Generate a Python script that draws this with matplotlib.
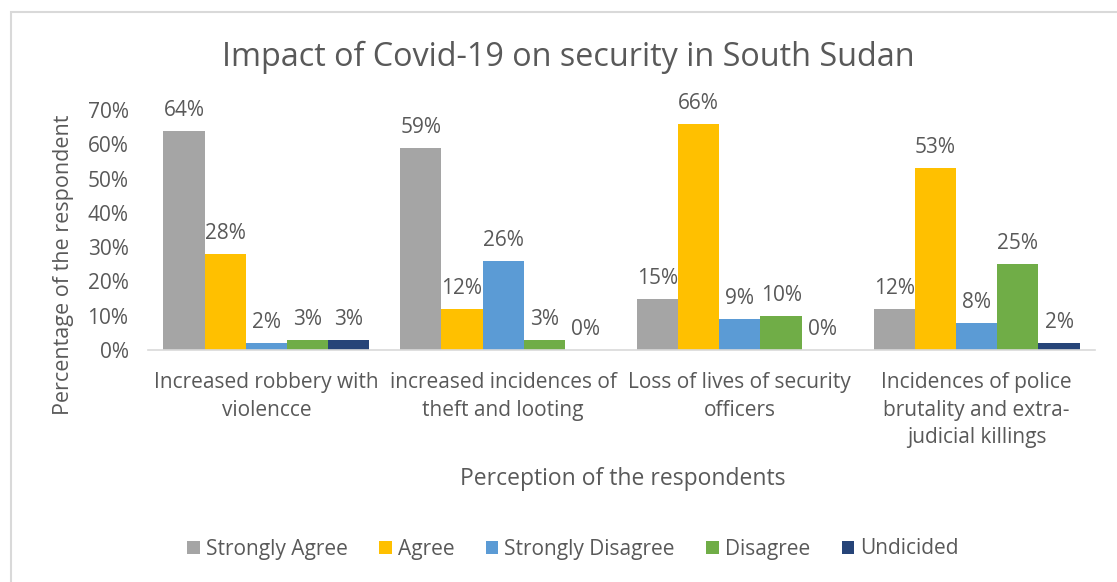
import matplotlib.pyplot as plt
import numpy as np
from matplotlib.patches import Rectangle

categories = [
    "Increased robbery with\nviolencce",
    "increased incidences of\ntheft and looting",
    "Loss of lives of security\nofficers",
    "Incidences of police\nbrutality and extra-\njudicial killings",
]
series = ["Strongly Agree", "Agree", "Strongly Disagree", "Disagree", "Undicided"]
strongly_agree = [64, 59, 15, 12]
agree = [28, 12, 66, 53]
strongly_disagree = [2, 26, 9, 8]
disagree = [3, 3, 10, 25]
undecided = [3, 0, 0, 2]
colors = ["#A5A5A5", "#FFC000", "#5B9BD5", "#70AD47", "#264478"]
yticks = [0, 10, 20, 30, 40, 50, 60, 70]

TEXT = "#595959"
plt.rcParams["font.family"] = ["Open Sans", "DejaVu Sans"]

fig = plt.figure(figsize=(11.17, 5.82), dpi=100)
fig.patches.append(Rectangle((11 / 1117, -0.1), 1.2, 1 - 12 / 582 + 0.1,
                             transform=fig.transFigure, fill=False,
                             edgecolor="#D9D9D9", linewidth=1.5))
ax = fig.add_axes([148 / 1117, 1 - 350 / 582, 947 / 1117, 240 / 582])

values = [strongly_agree, agree, strongly_disagree, disagree, undecided]
x = np.arange(len(categories))
width = 0.174
for i, (name, vals) in enumerate(zip(series, values)):
    pos = x + (i - 2) * width
    ax.bar(pos, vals, width, color=colors[i], label=name)
    for p, v in zip(pos, vals):
        ax.text(p, v + 2.9, f"{v}%", ha="center", va="bottom", fontsize=15, color=TEXT)

ax.set_xlim(-0.5, len(categories) - 0.5)
ax.set_ylim(0, 70)
ax.set_yticks(yticks)
ax.set_yticklabels([f"{t}%" for t in yticks], fontsize=15, color=TEXT)
ax.set_xticks(x)
ax.set_xticklabels(categories, fontsize=15, color=TEXT, linespacing=1.4)
ax.tick_params(length=0, axis="both")
ax.tick_params(axis="x", pad=16)
ax.tick_params(axis="y", pad=14)
for s in ["top", "right", "left"]:
    ax.spines[s].set_visible(False)
ax.spines["bottom"].set_color("#D9D9D9")
ax.spines["bottom"].set_linewidth(1.2)

fig.text(568 / 1117, 1 - 57 / 582, "Impact of Covid-19 on security in South Sudan",
         ha="center", va="center", fontsize=23.3, color=TEXT)
fig.text(623 / 1117, 1 - 479 / 582, "Perception of the respondents",
         ha="center", va="center", fontsize=16.5, color=TEXT)
fig.text(64 / 1117, 1 - 265 / 582, "Percentage of the respondent",
         ha="center", va="center", rotation=90, fontsize=15.5, color=TEXT)

fig.legend(loc="center", bbox_to_anchor=(573 / 1117, 1 - 549 / 582), ncol=5,
           frameon=False, fontsize=15, handlelength=0.6, handleheight=0.6,
           handletextpad=0.3, columnspacing=1.5, labelcolor=TEXT)

fig.savefig("out.png", dpi=100)
